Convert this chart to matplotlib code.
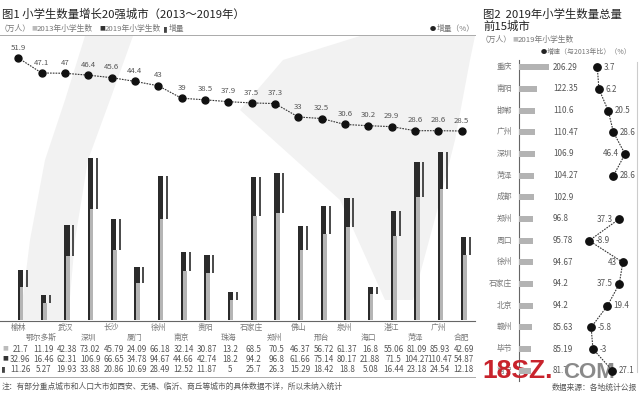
import numpy as np
import matplotlib
matplotlib.use('Agg')
import matplotlib.pyplot as plt
from matplotlib.patches import Polygon

plt.rcParams['font.family'] = ['Noto Sans CJK SC', 'DejaVu Sans']

# Figure 1 data: top 20 cities by growth of primary school pupils (2013-2019)
cities1 = ['榆林', '鄂尔多斯', '武汉', '深圳', '长沙', '厦门', '徐州', '南京', '贵阳', '珠海',
           '石家庄', '郑州', '佛山', '邢台', '泉州', '海口', '湛江', '菏泽', '广州', '合肥']
pupils_2013 = [21.7, 11.19, 42.38, 73.02, 45.79, 24.09, 66.18, 32.14, 30.87, 13.2,
               68.5, 70.5, 46.37, 56.72, 61.37, 16.8, 55.06, 81.09, 85.93, 42.69]
pupils_2019 = [32.96, 16.46, 62.31, 106.9, 66.65, 34.78, 94.67, 44.66, 42.74, 18.2,
               94.2, 96.8, 61.66, 75.14, 80.17, 21.88, 71.5, 104.27, 110.47, 54.87]
increase = [11.26, 5.27, 19.93, 33.88, 20.86, 10.69, 28.49, 12.52, 11.87, 5,
            25.7, 26.3, 15.29, 18.42, 18.8, 5.08, 16.44, 23.18, 24.54, 12.18]
growth1 = [51.9, 47.1, 47, 46.4, 45.6, 44.4, 43, 39, 38.5, 37.9,
           37.5, 37.3, 33, 32.5, 30.6, 30.2, 29.9, 28.6, 28.6, 28.5]

# Figure 2 data: top 15 cities by 2019 primary school pupils
cities2 = ['重庆', '南阳', '邯郸', '广州', '深圳', '菏泽', '成都', '郑州', '周口', '徐州',
           '石家庄', '北京', '赣州', '毕节', '南宁']
pupils2 = [206.29, 122.35, 110.6, 110.47, 106.9, 104.27, 102.9, 96.8, 95.78, 94.67,
           94.2, 94.2, 85.63, 85.19, 81.7]
growth2 = [3.7, 6.2, 20.5, 28.6, 46.4, 28.6, np.nan, 37.3, -8.9, 43,
           37.5, 19.4, -5.8, -3, 27.1]
left_labels2 = ['46.4', '37.3', '43', '37.5']

W, H = 640, 397
fig = plt.figure(figsize=(W / 100, H / 100), dpi=100)
fig.patch.set_facecolor('white')


def px_axes(x0, y0, x1, y1):
    ax = fig.add_axes([x0 / W, 1 - y1 / H, (x1 - x0) / W, (y1 - y0) / H])
    ax.set_facecolor('none')
    ax.axis('off')
    return ax


bg = px_axes(0, 0, W, H)
bg.set_xlim(0, W)
bg.set_ylim(H, 0)

# faint decorative swooshes in the background
swoosh_l = [(85, 36), (65, 100), (45, 160), (30, 240), (20, 320),
            (68, 320), (75, 240), (88, 160), (110, 100), (133, 36)]
swoosh_r = [(240, 110), (283, 60), (360, 36), (475, 36), (470, 60), (455, 140),
            (440, 200), (413, 300), (385, 300), (340, 200)]
for pts in (swoosh_l, swoosh_r):
    bg.add_patch(Polygon(pts, closed=True, facecolor='#f2f2f2', edgecolor='none', zorder=0))

num_font = ['Liberation Sans Narrow', 'Noto Sans CJK SC']
c_txt = '#555555'
c_leg = '#777777'

# ---------- Figure 1 ----------
x0_px, step = 18.3, 23.33
xs = np.arange(len(cities1))
xlim1 = (-x0_px / step, (475 - x0_px) / step)

bg.text(2, 14, '图1 小学生数量增长20强城市（2013～2019年）', fontsize=8.2, color='#222222',
        va='center', ha='left')
bg.text(0, 29, '（万人）', fontsize=5.6, color=c_leg, va='center')
bg.text(31, 29, '■', fontsize=4.2, color='#bbbbbb', va='center')
bg.text(37, 29, '2013年小学生数', fontsize=5.6, color=c_leg, va='center')
bg.text(99, 29, '■', fontsize=4.2, color='#333333', va='center')
bg.text(105, 29, '2019年小学生数', fontsize=5.6, color=c_leg, va='center')
bg.text(164, 29, '▌', fontsize=4.2, color='#444444', va='center')
bg.text(169, 29, '增量', fontsize=5.6, color=c_leg, va='center')
bg.text(430, 29, '●', fontsize=4.5, color='#222222', va='center')
bg.text(437, 29, '增量（%）', fontsize=5.6, color=c_leg, va='center')
bg.plot([0, 475], [35, 35], color='#aaaaaa', lw=0.7)

ax_bar = px_axes(0, 140, 475, 320)
ax_bar.set_xlim(*xlim1)
ax_bar.set_ylim(0, 180 / 1.52)
ax_bar.bar(xs + 0.088, pupils_2019, width=0.236, color='#2b2b2b', zorder=2)
ax_bar.bar(xs + 0.137, pupils_2013, width=0.16, color='#b5b5b5', zorder=3)
ax_bar.bar(xs + 0.356, increase, bottom=pupils_2013, width=0.086, color='#4d4d4d', zorder=2)

ax_dot = px_axes(0, 40, 475, 140)
ax_dot.set_xlim(*xlim1)
ax_dot.set_ylim(28.5 - 9 / 3.12, 51.9 + 18 / 3.12)
ax_dot.plot(xs, growth1, color='#333333', lw=0.8, ls=(0, (1.5, 1)), zorder=2)
ax_dot.plot(xs, growth1, 'o', color='#111111', ms=5, zorder=3)
for x, g in zip(xs, growth1):
    ax_dot.annotate(f'{g:g}', (x, g), xytext=(0, 7.5), textcoords='offset points',
                    ha='center', va='center', fontsize=5.6, color=c_txt,
                    family=num_font, annotation_clip=False)

bg.plot([0, 475], [320.7, 320.7], color='#666666', lw=0.8)
for i, name in enumerate(cities1):
    cx = x0_px + step * i
    bg.text(cx, 327.7 if i % 2 == 0 else 337.7, name, fontsize=5.6, color=c_leg,
            ha='center', va='center')
    for row_y, vals in zip([349.3, 359.3, 369.3], [pupils_2013, pupils_2019, increase]):
        bg.text(cx + 2, row_y, f'{vals[i]:g}', fontsize=5.8, color=c_txt,
                ha='center', va='center', family=num_font)
bg.text(2, 349.3, '■', fontsize=4.2, color='#bbbbbb', va='center')
bg.text(2, 359.3, '■', fontsize=4.2, color='#333333', va='center')
bg.text(2.5, 369.3, '▌', fontsize=4.2, color='#444444', va='center')
bg.plot([0, 475], [377, 377], color='#aaaaaa', lw=0.7)
bg.text(2, 387, '注：有部分重点城市和人口大市如西安、无锡、临沂、商丘等城市的具体数据不详，所以未纳入统计',
        fontsize=5.6, color=c_txt, va='center')

# ---------- Figure 2 ----------
bg.text(483, 14, '图2  2019年小学生数量总量', fontsize=8.2, color='#222222', va='center')
bg.text(483, 26, '前15城市', fontsize=8.2, color='#222222', va='center')
bg.text(481, 40, '（万人）', fontsize=5.6, color=c_leg, va='center')
bg.text(512, 40, '■', fontsize=4.2, color='#bbbbbb', va='center')
bg.text(518, 40, '2019年小学生数', fontsize=5.6, color=c_leg, va='center')
bg.text(541, 52.3, '●', fontsize=4.5, color='#222222', va='center')
bg.text(547, 52.3, '增速（与2013年比）（%）', fontsize=5.0, color=c_leg, va='center')

ys = np.arange(len(cities2))
ax_b2 = px_axes(519, 56.5, 580, 381.5)
ax_b2.set_ylim(14.5, -0.5)
ax_b2.set_xlim(0, 61 / 0.146)
ax_b2.barh(ys, pupils2, height=0.28, color='#b3b3b3')
for y, name, v in zip(ys, cities2, pupils2):
    ty = 67.3 + 21.67 * y
    bg.text(512, ty, name, fontsize=5.6, color=c_leg, ha='right', va='center')
    bg.text(553, ty, f'{v:g}', fontsize=5.8, color=c_txt, ha='left', va='center',
            family=num_font)
bg.plot([518.5, 518.5], [60, 381], color='#666666', lw=0.8)
bg.plot([637, 637], [62, 372], color='#cccccc', lw=0.8)

ax_d2 = px_axes(580, 56.5, 637, 381.5)
ax_d2.set_ylim(14.5, -0.5)
ax_d2.set_xlim(-14.9 / 0.649, 42.1 / 0.649)
ax_d2.plot(growth2, ys, color='#333333', lw=0.8, ls=(0, (1.5, 1)), zorder=2)
ax_d2.plot(growth2, ys, 'o', color='#111111', ms=5.3, zorder=3)
for y, g in zip(ys, growth2):
    if np.isnan(g):
        continue
    lab = f'{g:g}'
    left = lab in left_labels2
    ax_d2.annotate(lab, (g, y), xytext=(-4.5 if left else 4.5, 0), textcoords='offset points',
                   ha='right' if left else 'left', va='center', fontsize=5.8, color=c_txt,
                   family=num_font, annotation_clip=False)

# watermark and source
bg.text(482, 371, '18SZ.', fontsize=19, color='#c8232c', fontweight='bold',
        va='center', family=['Liberation Sans', 'DejaVu Sans'], zorder=5)
bg.text(563, 372, 'COM', fontsize=16, color='#8a8a8a', fontweight='bold',
        va='center', family=['Liberation Sans', 'DejaVu Sans'], zorder=5)
bg.text(637, 388, '数据来源：各地统计公报', fontsize=5.6, color=c_txt, ha='right', va='center')

fig.savefig('out.png', dpi=100)
